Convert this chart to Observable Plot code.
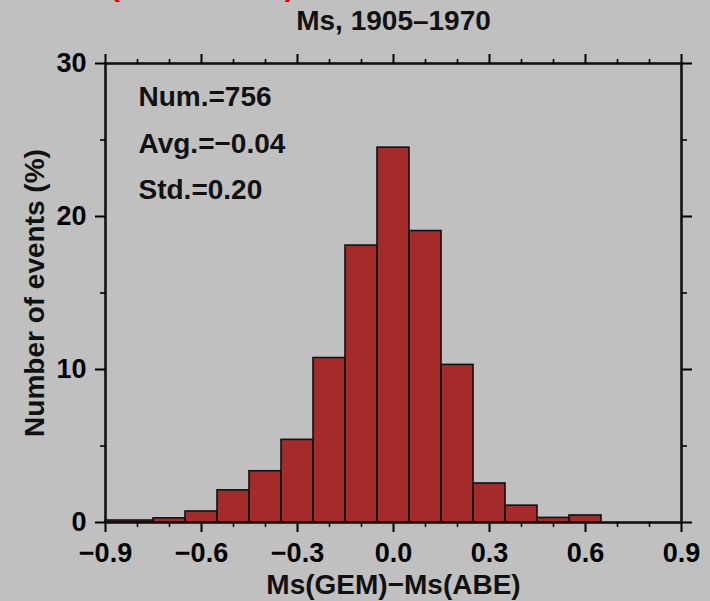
<!DOCTYPE html>
<html>
<head>
<meta charset="utf-8">
<script src="https://cdn.jsdelivr.net/npm/d3@7"></script>
<script src="https://cdn.jsdelivr.net/npm/@observablehq/plot@0.6"></script>
<style>
  html, body { margin: 0; padding: 0; background: #c0c0c0; overflow: hidden; }
  #wrap { position: relative; width: 710px; height: 601px; }
  #tag {
    position: absolute; left: 110px; top: -29px;
    font: bold 30px/30px 'Liberation Sans', Arial, sans-serif;
    color: #e00000; white-space: pre; margin: 0;
  }
</style>
</head>
<body>
<div id="wrap">
  <div id="chart"></div>
  <div id="tag"></div>
</div>
<script>
// ---- data ----
const binLo   = [-0.9, -0.75, -0.65, -0.55, -0.45, -0.35, -0.25, -0.15, -0.05, 0.05, 0.15, 0.25, 0.35, 0.45, 0.55];
const binHi   = [-0.75, -0.65, -0.55, -0.45, -0.35, -0.25, -0.15, -0.05, 0.05, 0.15, 0.25, 0.35, 0.45, 0.55, 0.65];
const percent = [0.13, 0.27, 0.72, 2.1, 3.35, 5.4, 10.75, 18.1, 24.5, 19.05, 10.3, 2.55, 1.1, 0.3, 0.46];

const xMajor = [-0.9, -0.6, -0.3, 0.0, 0.3, 0.6, 0.9];
const xMinor = [-0.8, -0.7, -0.5, -0.4, -0.2, -0.1, 0.1, 0.2, 0.4, 0.5, 0.7, 0.8];
const yMajor = [0, 10, 20, 30];
const yMinor = [5, 15, 25];

const statLines = ["Num.=756", "Avg.=\u22120.04", "Std.=0.20"];
const titleText = "Ms, 1905\u20131970";
const xLabel = "Ms(GEM)\u2212Ms(ABE)";
const yLabel = "Number of events (%)";
const panelTag = "(GEM \u2212 ABE)";

const bins = binLo.map((lo, i) => ({lo, hi: binHi[i], pct: percent[i]}));
const fmt = d3.format(".1f");
const none = () => "";

const FS = 27;
const chart = Plot.plot({
  width: 710,
  height: 601,
  marginLeft: 105,
  marginRight: 29,
  marginTop: 63,
  marginBottom: 79,
  style: {
    background: "#c0c0c0",
    fontFamily: "'Liberation Sans', Arial, Helvetica, sans-serif",
    fontWeight: "bold",
    fontSize: FS + "px",
    color: "black"
  },
  x: {domain: [-0.9, 0.9]},
  y: {domain: [0, 30]},
  marks: [
    Plot.rect(bins, {x1: "lo", x2: "hi", y1: 0, y2: "pct", fill: "#a52a2a", stroke: "#111", strokeWidth: 1.6}),
    Plot.frame({stroke: "#111", strokeWidth: 2.6}),
    // bottom axis
    Plot.axisX(xMajor, {anchor: "bottom", tickSize: 10, tickPadding: 10, strokeWidth: 2, tickFormat: fmt, label: null}),
    Plot.axisX(xMinor, {anchor: "bottom", tickSize: 5, strokeWidth: 1.6, tickFormat: none, label: null}),
    // top axis
    Plot.axisX(xMajor, {anchor: "top", tickSize: 10, strokeWidth: 2, tickFormat: none, label: null}),
    Plot.axisX(xMinor, {anchor: "top", tickSize: 5, strokeWidth: 1.6, tickFormat: none, label: null}),
    // left axis
    Plot.axisY(yMajor, {anchor: "left", tickSize: 10, tickPadding: 9, strokeWidth: 2, tickFormat: d => String(d), label: null}),
    Plot.axisY(yMinor, {anchor: "left", tickSize: 5, strokeWidth: 1.6, tickFormat: none, label: null}),
    // right axis
    Plot.axisY(yMajor, {anchor: "right", tickSize: 10, strokeWidth: 2, tickFormat: none, label: null}),
    Plot.axisY(yMinor, {anchor: "right", tickSize: 5, strokeWidth: 1.6, tickFormat: none, label: null}),
    // stats annotations
    ...statLines.map((s, i) => Plot.text([s], {
      frameAnchor: "top-left", textAnchor: "start", lineAnchor: "bottom",
      dx: 33, dy: [42, 89, 135][i], fontSize: 28, fill: "#111"
    })),
    // title
    Plot.text([titleText], {frameAnchor: "top", textAnchor: "middle", lineAnchor: "bottom", dy: -34, fontSize: 28, fill: "#111"}),
    // x label
    Plot.text([xLabel], {frameAnchor: "bottom", textAnchor: "middle", lineAnchor: "bottom", dy: 71, fontSize: 28, fill: "#111"}),
    // y label
    Plot.text([yLabel], {frameAnchor: "left", textAnchor: "middle", lineAnchor: "bottom", rotate: -90, dx: -62, fontSize: 28, fill: "#111"})
  ]
});
document.getElementById("chart").appendChild(chart);
document.getElementById("tag").textContent = panelTag;
</script>
</body>
</html>
